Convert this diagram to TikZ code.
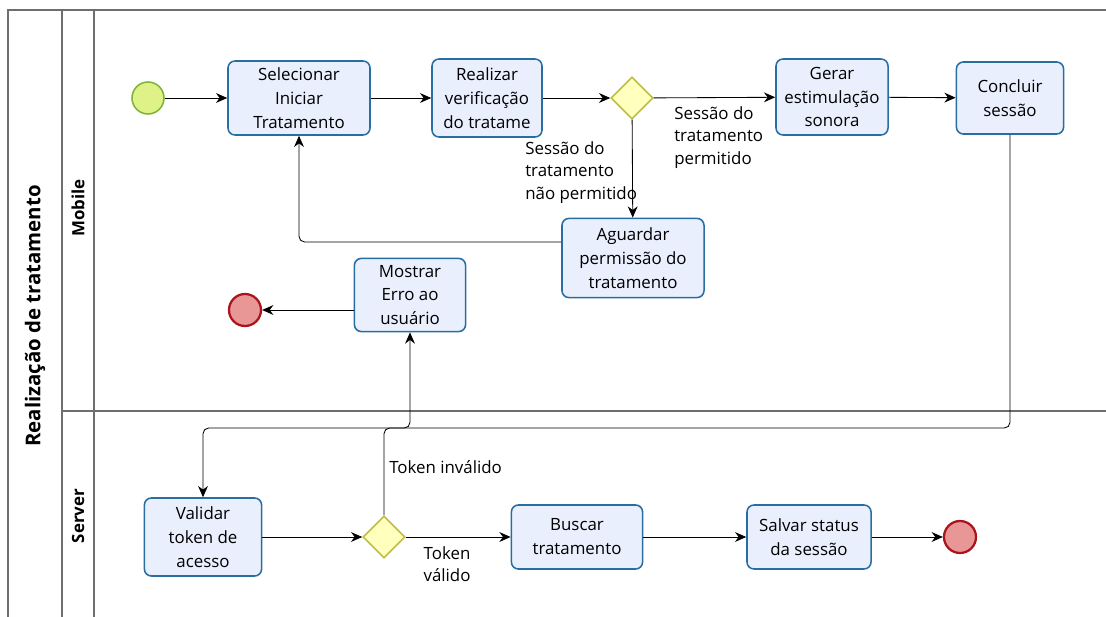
\documentclass[tikz,border=0pt]{standalone}
\usepackage{fontspec}
\setmainfont{Open Sans}
\usetikzlibrary{shapes.geometric,arrows.meta}

\definecolor{taskfill}{RGB}{233,239,252}
\definecolor{taskline}{RGB}{40,110,160}
\definecolor{gwfill}{RGB}{255,255,190}
\definecolor{gwline}{RGB}{190,190,70}
\definecolor{startfill}{RGB}{222,242,135}
\definecolor{startline}{RGB}{130,180,60}
\definecolor{endfill}{RGB}{232,150,150}
\definecolor{endline}{RGB}{170,20,30}
\definecolor{poolgray}{RGB}{110,110,110}

\tikzset{
	task/.style={draw=taskline, fill=taskfill, line width=1.1pt, rounded corners=5pt, align=center, inner sep=0pt, font=\fontsize{12}{17}\selectfont},
	gate/.style={diamond, draw=gwline, fill=gwfill, line width=1.1pt, minimum size=1.05cm, inner sep=0pt},
	startev/.style={circle, draw=startline, fill=startfill, line width=1.1pt, minimum size=0.8cm},
	endev/.style={circle, draw=endline, fill=endfill, line width=1.6pt, minimum size=0.8cm},
	flow/.style={-{Stealth[length=8pt,width=7pt]}, line width=0.6pt, rounded corners=4pt},
	lbl/.style={align=left, inner sep=0pt, font=\fontsize{12}{16}\selectfont},
	lanehead/.style={rotate=90, font=\bfseries\fontsize{12}{12}\selectfont},
	pool/.style={draw=poolgray, line width=1.2pt}
}

\begin{document}
\begin{tikzpicture}[x=0.025cm, y=-0.025cm]
	\useasboundingbox (0,0) rectangle (1106,617);
	
	% pool and lanes
	\draw[pool] (8,617) -- (8,10) -- (1106,10);
	\draw[pool] (62,10) -- (62,617);
	\draw[pool] (94,10) -- (94,617);
	\draw[pool] (62,411) -- (1106,411);
	
	\node[rotate=90, font=\bfseries\fontsize{14.5}{14.5}\selectfont] (pooltitle) at (35,316) {Realização de tratamento};
	\node[lanehead] (mobile) at (78,208) {Mobile};
	\node[lanehead] (server) at (78,516) {Server};
	
	% mobile lane
	\node[startev] (start) at (148,98) {};
	\node[task, minimum width=3.55cm, minimum height=1.85cm] (sel) at (299,98) {Selecionar\\Iniciar\\Tratamento};
	\node[task, minimum width=2.75cm, minimum height=1.95cm] (ver) at (487,98) {Realizar\\verificação\\do tratame};
	\node[gate] (gw1) at (632,98) {};
	\node[task, minimum width=2.8cm, minimum height=1.9cm] (ger) at (832,97) {Gerar\\estimulação\\sonora};
	\node[task, minimum width=2.68cm, minimum height=1.8cm] (con) at (1010,98) {Concluir\\sessão};
	\node[task, minimum width=3.55cm, minimum height=1.98cm] (agu) at (633,258) {Aguardar\\permissão do\\tratamento};
	\node[task, minimum width=2.78cm, minimum height=1.83cm] (mos) at (410,295) {Mostrar\\Erro ao\\usuário};
	\node[endev] (end1) at (245,310) {};
	
	% server lane
	\node[task, minimum width=2.93cm, minimum height=1.95cm] (val) at (203,537) {Validar\\token de\\acesso};
	\node[gate] (gw2) at (384,537) {};
	\node[task, minimum width=3.28cm, minimum height=1.6cm] (bus) at (577,537) {Buscar\\tratamento};
	\node[task, minimum width=3.1cm, minimum height=1.6cm] (sal) at (809,537) {Salvar status\\da sessão};
	\node[endev] (end2) at (960,537) {};
	
	\coordinate (jog) at (410,428);
	
	% flows
	\draw[flow] (start) -- (sel);
	\draw[flow] (sel) -- (ver);
	\draw[flow] (ver) -- (gw1);
	\draw[flow] (gw1) -- (ger);
	\draw[flow] (gw1) -- (agu);
	\draw[flow] ([yshift=0.4cm]agu.west) -| (sel.south);
	\draw[flow] (ger) -- (con);
	\draw[flow] (con.south) |- (val.north |- jog) -- (val.north);
	\draw[flow] (end1 -| mos.west) -- (end1);
	\draw[flow] (val) -- (gw2);
	\draw[flow] (gw2.north) |- (jog) -- (mos.south);
	\draw[flow] (gw2) -- (bus);
	\draw[flow] (bus) -- (sal);
	\draw[flow] (sal) -- (end2);
	
	% labels
	\node[lbl, anchor=north west] (okl) at (674,106) {Sessão do\\tratamento\\permitido};
	\node[lbl, anchor=north west] (nokl) at (525,141) {Sessão do\\tratamento\\não permitido};
	\node[lbl, anchor=west] (badl) at (389,467) {Token inválido};
	\node[lbl, align=center, anchor=north] (goodl) at (447,546) {Token\\válido};
\end{tikzpicture}
\end{document}
